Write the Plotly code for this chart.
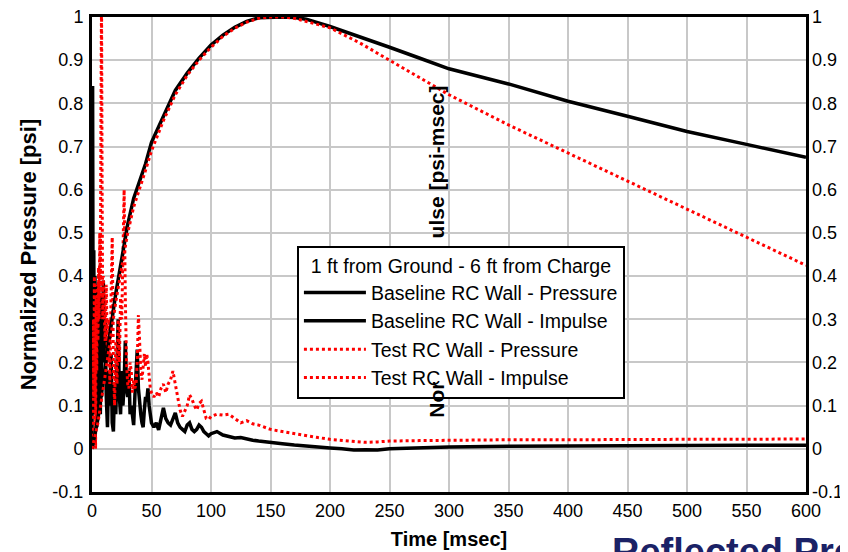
import plotly.graph_objects as go

# time axis of the pressure records [msec]
t_press = [0, 0.5, 1, 1.5, 2, 2.5, 3, 3.5, 4, 4.5, 5, 5.5, 6, 6.5, 7, 7.5, 8, 8.5, 9, 9.5,
           10, 11, 12, 13, 14, 15, 16, 17, 18, 19, 20, 21, 22, 23, 24, 25, 26, 27, 28, 29,
           30, 31, 32, 33, 34, 35, 36, 37, 38, 39, 40, 41, 42, 43, 44, 45, 46, 47, 48, 49,
           50, 52, 54, 56, 58, 60, 62, 64, 66, 68, 70, 72, 74, 76, 78, 80, 82, 84, 86, 88,
           90, 92, 94, 96, 98, 100, 105, 110, 115, 120, 125, 130, 135, 140, 145, 150, 160, 170, 180, 190,
           200, 210, 220, 230, 240, 250, 275, 300, 350, 400, 450, 500, 550, 600]

base_press = [0.02, 0.84, 0.15, 0.46, 0.08, 0.40, 0.12, 0.35, 0.05, 0.30, 0.10, 0.38, 0.15, 0.32, 0.08, 0.28, 0.12, 0.36, 0.20, 0.39,
              0.25, 0.30, 0.12, 0.05, 0.18, 0.10, 0.22, 0.06, 0.04, 0.15, 0.08, 0.20, 0.30, 0.12, 0.08, 0.18, 0.10, 0.15, 0.25, 0.14,
              0.12, 0.18, 0.08, 0.10, 0.07, 0.055, 0.12, 0.20, 0.23, 0.14, 0.10, 0.08, 0.06, 0.05, 0.09, 0.12, 0.11, 0.14, 0.10, 0.07,
              0.06, 0.05, 0.06, 0.044, 0.07, 0.095, 0.07, 0.06, 0.055, 0.07, 0.083, 0.06, 0.05, 0.045, 0.04, 0.055, 0.06, 0.045, 0.04, 0.045,
              0.055, 0.05, 0.04, 0.035, 0.03, 0.035, 0.04, 0.032, 0.028, 0.025, 0.026, 0.022, 0.02, 0.018, 0.017, 0.016, 0.012, 0.009, 0.006, 0.004,
              0.002, 0.0, -0.003, -0.002, -0.003, 0.0, 0.002, 0.004, 0.006, 0.007, 0.008, 0.008, 0.008, 0.008]

test_press = [0.0, 0.05, 0.30, 0.12, 0.40, 0.22, 0.0, 0.35, 0.18, 0.38, 0.25, 0.42, 0.30, 0.50, 0.35, 0.75, 1.05, 0.60, 0.30, 0.40,
              0.33, 0.25, 0.38, 0.20, 0.30, 0.15, 0.35, 0.49, 0.20, 0.10, 0.25, 0.15, 0.30, 0.20, 0.35, 0.30, 0.45, 0.60, 0.35, 0.20,
              0.15, 0.14, 0.20, 0.18, 0.13, 0.16, 0.14, 0.15, 0.20, 0.31, 0.25, 0.18, 0.16, 0.20, 0.22, 0.19, 0.22, 0.20, 0.17, 0.14,
              0.13, 0.12, 0.13, 0.12, 0.14, 0.15, 0.13, 0.15, 0.16, 0.18, 0.15, 0.12, 0.09, 0.075, 0.09, 0.10, 0.125, 0.115, 0.10, 0.09,
              0.105, 0.11, 0.09, 0.07, 0.068, 0.075, 0.08, 0.078, 0.08, 0.07, 0.06, 0.065, 0.058, 0.055, 0.05, 0.045, 0.04, 0.035, 0.03, 0.026,
              0.022, 0.02, 0.018, 0.015, 0.016, 0.018, 0.019, 0.02, 0.021, 0.021, 0.022, 0.022, 0.022, 0.023]

# impulse curves
t_imp = [0, 5, 10, 15, 20, 25, 30, 35, 40, 45, 50, 60, 70, 80, 90, 100, 110, 120, 130, 140,
         150, 160, 170, 180, 200, 225, 250, 275, 300, 350, 400, 450, 500, 550, 600]
base_imp = [0.0, 0.07, 0.17, 0.27, 0.36, 0.44, 0.52, 0.58, 0.62, 0.66, 0.71, 0.77, 0.83, 0.87, 0.905, 0.935, 0.958, 0.976, 0.99, 0.998,
            1.0, 1.0, 0.999, 0.995, 0.978, 0.955, 0.93, 0.905, 0.88, 0.845, 0.805, 0.77, 0.735, 0.705, 0.675]
test_imp = [0.0, 0.06, 0.15, 0.25, 0.34, 0.42, 0.50, 0.56, 0.60, 0.645, 0.69, 0.76, 0.82, 0.865, 0.90, 0.93, 0.955, 0.974, 0.988, 0.997,
            1.0, 1.0, 0.997, 0.99, 0.975, 0.94, 0.90, 0.86, 0.82, 0.75, 0.685, 0.62, 0.555, 0.49, 0.425]

y_ticks = [1, 0.9, 0.8, 0.7, 0.6, 0.5, 0.4, 0.3, 0.2, 0.1, 0, -0.1]
y_labels = ["1", "0.9", "0.8", "0.7", "0.6", "0.5", "0.4", "0.3", "0.2", "0.1", "0", "-0.1"]
x_ticks = list(range(0, 601, 50))

FONT = "Liberation Sans, Arial, sans-serif"

fig = go.Figure()
fig.add_trace(go.Scatter(x=t_press, y=base_press, mode="lines", name="Baseline RC Wall - Pressure",
                         line=dict(color="black", width=3.5)))
fig.add_trace(go.Scatter(x=t_imp, y=base_imp, mode="lines", name="Baseline RC Wall - Impulse",
                         line=dict(color="black", width=3.5), yaxis="y2"))
fig.add_trace(go.Scatter(x=t_press, y=test_press, mode="lines", name="Test RC Wall - Pressure",
                         line=dict(color="#ff0000", width=3, dash="dot")))
fig.add_trace(go.Scatter(x=t_imp, y=test_imp, mode="lines", name="Test RC Wall - Impulse",
                         line=dict(color="#ff0000", width=3, dash="dot"), yaxis="y2"))

axis_common = dict(range=[-0.1, 1], tickvals=y_ticks, ticktext=y_labels, ticks="", automargin=False,
                   ticklabeloverflow="allow",
                   tickfont=dict(size=18, color="black", family=FONT))

# page body adds 8px on the left/top, so the figure is 8px smaller and margins shifted
fig.update_layout(
    width=840, height=544,
    margin=dict(l=84, r=42, t=9, b=60),
    paper_bgcolor="white", plot_bgcolor="white",
    font=dict(family=FONT, color="black"),
    xaxis=dict(range=[0, 600], tickvals=x_ticks, ticks="", showgrid=True, automargin=False,
               ticklabeloverflow="allow",
               gridcolor="#c8c8c8", gridwidth=1.5, zeroline=False,
               showline=True, linecolor="black", linewidth=3, mirror=True,
               tickfont=dict(size=18, color="black", family=FONT),
               title=dict(text="<b>Time [msec]</b>", font=dict(size=20, family=FONT), standoff=13)),
    yaxis=dict(**axis_common, showgrid=True, gridcolor="#c8c8c8", gridwidth=1.5, zeroline=False,
               showline=True, linecolor="black", linewidth=3, mirror=True, ticklabelstandoff=2,
               title=dict(text="<b>Normalized Pressure [psi]</b>", font=dict(size=22, family=FONT), standoff=10)),
    yaxis2=dict(**axis_common, overlaying="y", side="right", showgrid=False, zeroline=False,
                showline=False, ticklabelstandoff=5),
    showlegend=True,
    legend=dict(x=0.287, y=0.518, xanchor="left", yanchor="top",
                bgcolor="white", bordercolor="black", borderwidth=2,
                font=dict(size=19.5, family=FONT, color="black"),
                title=dict(text="1 ft from Ground - 6 ft from Charge", side="top center",
                           font=dict(size=19.5, family=FONT)),
                tracegroupgap=0, itemwidth=62),
)

# right-axis title sits mid-plot, its middle hidden behind the legend box
fig.add_annotation(text="<b>Nor</b>", textangle=-90,
                   xref="paper", yref="paper", x=0.483, y=0.152, yanchor="bottom", showarrow=False,
                   font=dict(size=21, family=FONT, color="black"))
fig.add_annotation(text="<b>ulse [psi-msec]</b>", textangle=-90,
                   xref="paper", yref="paper", x=0.483, y=0.861, yanchor="top", showarrow=False,
                   font=dict(size=21, family=FONT, color="black"))

fig.add_annotation(text="<b>Reflected Pressure</b>", xref="paper", yref="paper",
                   x=0.726, y=-0.078, xanchor="left", yanchor="top", showarrow=False,
                   font=dict(size=38, family=FONT, color="#1b2266"))

fig.write_html("out.html")
